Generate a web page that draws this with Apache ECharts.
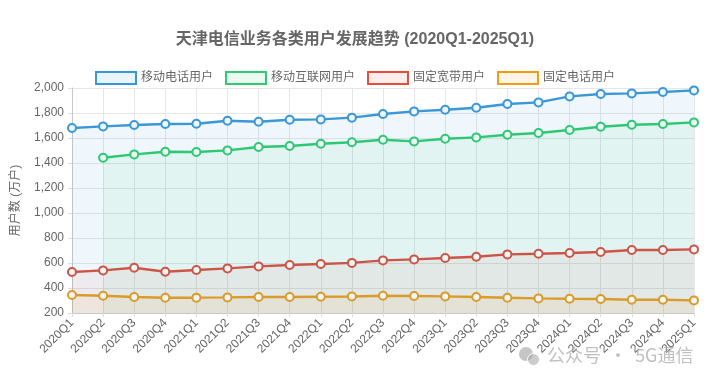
<!DOCTYPE html>
<html><head><meta charset="utf-8">
<script src="https://cdn.jsdelivr.net/npm/echarts@6/dist/echarts.min.js"></script>
<style>html,body{margin:0;padding:0;background:#fff}#c{width:710px;height:384px}</style>
</head><body><div id="c"></div>
<script>
const categories = ['2020Q1','2020Q2','2020Q3','2020Q4','2021Q1','2021Q2','2021Q3','2021Q4','2022Q1','2022Q2','2022Q3','2022Q4','2023Q1','2023Q2','2023Q3','2023Q4','2024Q1','2024Q2','2024Q3','2024Q4','2025Q1'];
const mobilePhone = [1680,1693,1704,1712,1714,1738,1730,1746,1749,1763,1792,1813,1826,1842,1872,1885,1933,1952,1957,1968,1981];
const mobileInternet = [null,1442,1469,1490,1488,1501,1528,1536,1554,1566,1586,1573,1594,1605,1626,1640,1664,1690,1706,1712,1725];
const broadband = [528,541,562,530,544,557,573,584,592,601,621,629,640,650,669,674,680,688,704,704,709];
const fixedPhone = [344,338,328,322,323,325,328,328,330,332,338,336,333,328,322,317,314,312,306,306,301];
const seriesNames = ['移动电话用户','移动互联网用户','固定宽带用户','固定电话用户'];
const yTicks = {min:200, max:2000, interval:200};

const colors = ['#3498db','#2ecc71','#e74c3c','#f39c12'];
const lineColors = ['#3a97d8','#2ec874','#cc5548','#dc9a2a'];
const fills = ['rgba(52,152,219,0.11)','rgba(46,204,113,0.1)','rgba(231,76,60,0.1)','rgba(243,156,18,0.1)'];
const datas = [mobilePhone, mobileInternet, broadband, fixedPhone];
const font = '"Liberation Sans", Arial, "Noto Sans CJK SC", sans-serif';

const chart = echarts.init(document.getElementById('c'), null, {renderer:'canvas'});
chart.setOption({
  animation:false,
  textStyle:{fontFamily:font},
  title:{text:'天津电信业务各类用户发展趋势 (2020Q1-2025Q1)', left:'center', top:27,
    textStyle:{fontSize:16, fontWeight:'bold', color:'#666', fontFamily:font}},
  legend:{top:66, left:'center', icon:'rect', itemWidth:40, itemHeight:12, itemGap:12,
    textStyle:{color:'#666', fontSize:12, fontFamily:font},
    data: seriesNames.map((n,i)=>({name:n, itemStyle:{color:fills[i], borderColor:colors[i], borderWidth:2}}))},
  grid:{left:72, right:16, top:88, bottom:71, containLabel:false},
  xAxis:{type:'category', data:categories, boundaryGap:false,
    axisLine:{lineStyle:{color:'#c8c8c8'}},
    axisTick:{show:true, length:4, lineStyle:{color:'#ddd'}},
    splitLine:{show:true, lineStyle:{color:'#e6e6e6'}},
    axisLabel:{rotate:45, color:'#666', fontSize:12, margin:8, interval:0, fontFamily:font}},
  yAxis:{type:'value', min:yTicks.min, max:yTicks.max, interval:yTicks.interval,
    name:'用户数 (万户)', nameLocation:'middle', nameGap:50, nameRotate:90,
    nameTextStyle:{color:'#666', fontSize:12, fontFamily:font},
    axisLine:{show:true, lineStyle:{color:'#c8c8c8'}},
    axisTick:{show:true, length:4, lineStyle:{color:'#ddd'}},
    splitLine:{lineStyle:{color:'#e6e6e6'}},
    axisLabel:{color:'#666', fontSize:12, margin:8, fontFamily:font,
      formatter:v=>v.toLocaleString('en-US')}},
  series: datas.map((d,i)=>({
    name:seriesNames[i], type:'line', data:d, connectNulls:false,
    symbol:'circle', symbolSize:8, showSymbol:true,
    lineStyle:{color:lineColors[i], width:2.5},
    itemStyle:{color:'#eef5f5', borderColor:lineColors[i], borderWidth:2},
    areaStyle:{color:fills[i]},
    emphasis:{disabled:true}, z:2+i
  })),
  graphic:[
    {type:'circle', left:519, top:347, z:100, shape:{r:7}, style:{fill:'rgba(150,150,150,0.55)'}},
    {type:'circle', left:527, top:353, z:101, shape:{r:6}, style:{fill:'rgba(170,170,170,0.6)', stroke:'#fff', lineWidth:1}},
    {type:'text', left:547, top:346, z:100,
      style:{text:'公众号  ·  5G通信', fill:'rgba(165,165,165,0.7)', fontSize:18, fontFamily:'"Noto Sans CJK SC", sans-serif'}}]
});
</script></body></html>
